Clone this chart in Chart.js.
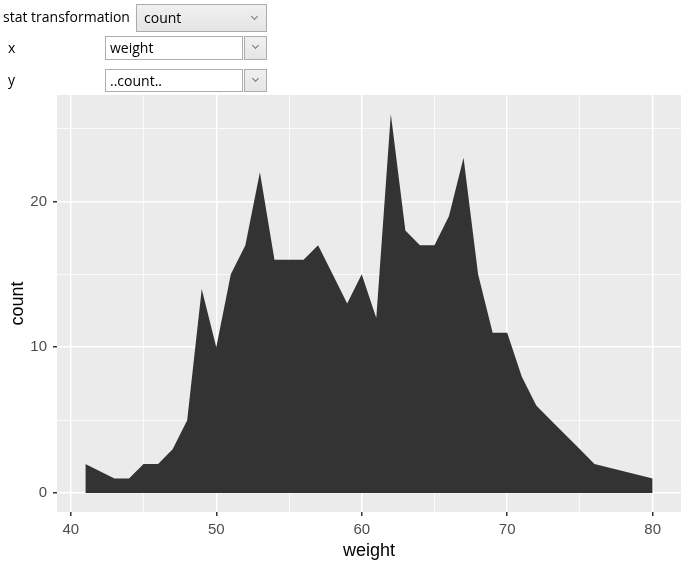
<!DOCTYPE html>
<html>
<head>
<meta charset="utf-8">
<script src="https://cdn.jsdelivr.net/npm/chart.js@4/dist/chart.umd.min.js"></script>
<style>
  html, body { margin: 0; padding: 0; background: #fff; }
  body { width: 686px; height: 566px; position: relative; overflow: hidden; font-family: "Open Sans", "Noto Sans", sans-serif; font-size: 14px; color: #000; }
  .lbl { position: absolute; line-height: 18px; white-space: nowrap; }
  .dd { position: absolute; box-sizing: border-box; border: 1px solid #acacac; background: linear-gradient(#f0f0f0, #e5e5e5); }
  .tb { position: absolute; box-sizing: border-box; border: 1px solid #abadb3; background: #fff; }
  .btn { position: absolute; box-sizing: border-box; border: 1px solid #acacac; background: linear-gradient(#f0f0f0, #e5e5e5); }
  .txt { position: absolute; left: 6px; top: 50%; transform: translateY(-50%); line-height: 18px; white-space: nowrap; }
  .chev { position: absolute; width: 4px; height: 4px; border-right: 1px solid #777; border-bottom: 1px solid #777; transform: rotate(45deg); }
  #wrap { position: absolute; left: 0; top: 0; width: 686px; height: 566px; }
</style>
</head>
<body>
<div id="wrap"><canvas id="c" width="686" height="566"></canvas></div>

<div class="lbl" style="left:3px; top:8px;">stat transformation</div>
<div class="dd" style="left:136px; top:4px; width:131px; height:28px;">
  <div class="txt" style="left:7px;">count</div>
  <div class="chev" style="left:115px; top:9px;"></div>
</div>

<div class="lbl" style="left:8px; top:39px;">x</div>
<div class="tb" style="left:105px; top:36px; width:138px; height:24px;">
  <div class="txt" style="left:4px;">weight</div>
</div>
<div class="btn" style="left:244px; top:36px; width:23px; height:24px;">
  <div class="chev" style="left:8px; top:6px;"></div>
</div>

<div class="lbl" style="left:8px; top:71px;">y</div>
<div class="tb" style="left:105px; top:69px; width:138px; height:23px;">
  <div class="txt" style="left:4px;">..count..</div>
</div>
<div class="btn" style="left:244px; top:69px; width:23px; height:23px;">
  <div class="chev" style="left:8px; top:6px;"></div>
</div>

<script>
// ---- data ----
const weights = [41,43,44,45,46,47,48,49,50,51,52,53,54,55,56,57,58,59,60,61,62,63,64,65,66,67,68,69,70,71,72,73,74,75,76,80];
const counts  = [2,1,1,2,2,3,5,14,10,15,17,22,16,16,16,17,15,13,15,12,26,18,17,17,19,23,15,11,11,8,6,5,4,3,2,1];
const xTicks = [40,45,50,55,60,65,70,75,80];
const xMajor = [40,50,60,70,80];
const yTicks = [0,5,10,15,20,25];
const yMajor = [0,10,20];
const xTitle = "weight";
const yTitle = "count";

const points = weights.map((w, i) => ({x: w, y: counts[i]}));

const panelBg = {
  id: 'panelBg',
  beforeDraw(chart) {
    const {ctx, chartArea: a} = chart;
    ctx.save();
    ctx.fillStyle = '#EBEBEB';
    ctx.fillRect(a.left, a.top, a.right - a.left, a.bottom - a.top);
    ctx.restore();
  }
};

const tickFont = {family: '"Liberation Sans", Arial, sans-serif', size: 15};
const titleFont = {family: '"Liberation Sans", Arial, sans-serif', size: 18};

new Chart(document.getElementById('c'), {
  type: 'line',
  data: {
    datasets: [{
      data: points,
      parsing: false,
      fill: 'origin',
      backgroundColor: '#333333',
      borderColor: '#333333',
      borderWidth: 0,
      pointRadius: 0,
      tension: 0
    }]
  },
  options: {
    responsive: false,
    animation: false,
    devicePixelRatio: 1,
    layout: { padding: { top: 95, right: 5, left: 0, bottom: 0 } },
    plugins: { legend: { display: false }, tooltip: { enabled: false } },
    scales: {
      x: {
        type: 'linear',
        min: 39.05, max: 81.95,
        afterBuildTicks(scale) { scale.ticks = xTicks.map(v => ({value: v})); },
        afterFit(scale) { scale.height = 54; },
        border: { display: false },
        grid: {
          color: '#FFFFFF',
          lineWidth: c => xMajor.includes(c.tick && c.tick.value) ? 1.5 : 0.75,
          tickColor: c => xMajor.includes(c.tick && c.tick.value) ? '#333333' : 'rgba(0,0,0,0)',
          tickLength: 4,
          drawTicks: true
        },
        ticks: {
          autoSkip: false, maxRotation: 0,
          color: '#4D4D4D', font: tickFont, padding: 5,
          callback: v => xMajor.includes(v) ? String(v) : ''
        },
        title: { display: true, text: xTitle, color: '#000', font: titleFont, padding: {top: 0, bottom: 4} }
      },
      y: {
        type: 'linear',
        min: -1.3, max: 27.3,
        afterBuildTicks(scale) { scale.ticks = yTicks.map(v => ({value: v})); },
        afterFit(scale) { scale.width = 57; },
        border: { display: false },
        grid: {
          color: '#FFFFFF',
          lineWidth: c => yMajor.includes(c.tick && c.tick.value) ? 1.5 : 0.75,
          tickColor: c => yMajor.includes(c.tick && c.tick.value) ? '#333333' : 'rgba(0,0,0,0)',
          tickLength: 4,
          drawTicks: true
        },
        ticks: {
          autoSkip: false,
          color: '#4D4D4D', font: tickFont, padding: 6,
          callback: v => yMajor.includes(v) ? String(v) : ''
        },
        title: { display: true, text: yTitle, color: '#000', font: titleFont, padding: {top: 7, bottom: 0} }
      }
    }
  },
  plugins: [panelBg]
});
</script>
</body>
</html>
